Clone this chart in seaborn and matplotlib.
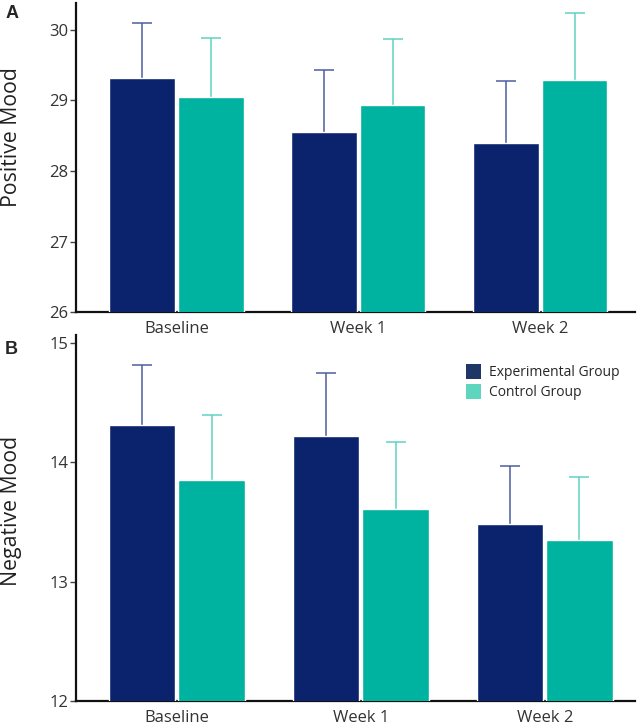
import numpy as np
import pandas as pd
import matplotlib
matplotlib.use("Agg")
import matplotlib.pyplot as plt
import seaborn as sns
from matplotlib.patches import Patch

sns.set_style("white")
plt.rcParams['font.family'] = ['Open Sans', 'DejaVu Sans']

# ---- data ----
timepoints = ["Baseline", "Week 1", "Week 2"]
groups = ["Experimental Group", "Control Group"]

pos_exp = [29.31, 28.55, 28.39]
pos_ctrl = [29.05, 28.93, 29.29]
pos_exp_err = [0.79, 0.88, 0.89]
pos_ctrl_err = [0.84, 0.94, 0.95]

neg_exp = [14.31, 14.22, 13.48]
neg_ctrl = [13.85, 13.61, 13.35]
neg_exp_err = [0.51, 0.53, 0.49]
neg_ctrl_err = [0.55, 0.56, 0.53]

bar_colors = ["#0b236d", "#00b3a0"]
err_colors = ["#4d5e9e", "#5fd3c3"]
legend_colors = ["#1f3766", "#5dd6bd"]


def make_df(exp, ctrl):
    return pd.DataFrame({
        "Time": timepoints * 2,
        "Group": [groups[0]] * 3 + [groups[1]] * 3,
        "Score": exp + ctrl,
    })


def draw_panel(ax, exp, ctrl, exp_err, ctrl_err, ylim, xlim, yticks, ylabel, label_y):
    df = make_df(exp, ctrl)
    sns.barplot(data=df, x="Time", y="Score", hue="Group", hue_order=groups,
                palette=bar_colors, errorbar=None, width=0.755, gap=0.045,
                saturation=1, legend=False, ax=ax, zorder=3)
    # upward-only error bars placed at the bar tops
    for cont, errs, ec in zip(ax.containers, [exp_err, ctrl_err], err_colors):
        xs = [b.get_x() + b.get_width() / 2 for b in cont]
        ys = [b.get_height() for b in cont]
        _, caps, _ = ax.errorbar(xs, ys, yerr=[np.zeros(len(errs)), errs],
                                 fmt="none", ecolor=ec, elinewidth=1.1,
                                 capsize=7, capthick=1.1, zorder=2)
        caps[0].set_visible(False)
    ax.set_ylim(*ylim)
    ax.set_xlim(*xlim)
    ax.set_yticks(yticks)
    ax.set_xlabel("")
    ax.set_ylabel(ylabel, fontsize=15.3, color="#222222")
    ax.yaxis.set_label_coords(-0.097, label_y)
    ax.tick_params(axis="y", left=True, length=4.5, width=1, color="#444444",
                   labelsize=12, labelcolor="#333333", pad=1)
    ax.tick_params(axis="x", bottom=False, labelsize=12, labelcolor="#333333", pad=3)
    for s in ["top", "right"]:
        ax.spines[s].set_visible(False)
    for s in ["left", "bottom"]:
        ax.spines[s].set_color("#111111")
        ax.spines[s].set_linewidth(1.6)


fig = plt.figure(figsize=(6.38, 7.28), dpi=100)
ax1 = fig.add_axes([0.119, 0.571, 0.876, 0.425])
ax2 = fig.add_axes([0.119, 0.0375, 0.876, 0.5025])

draw_panel(ax1, pos_exp, pos_ctrl, pos_exp_err, pos_ctrl_err,
           (26, 30.38), (-0.553, 2.52), [26, 27, 28, 29, 30], "Positive Mood", 0.566)
draw_panel(ax2, neg_exp, neg_ctrl, neg_exp_err, neg_ctrl_err,
           (12, 15.07), (-0.549, 2.49), [12, 13, 14, 15], "Negative Mood", 0.519)

handles = [Patch(facecolor=c, edgecolor="none") for c in legend_colors]
ax2.legend(handles, groups, loc="upper left", bbox_to_anchor=(0.685, 0.94),
           frameon=False, fontsize=10, handlelength=1.1, handleheight=1.3,
           handletextpad=0.6, labelspacing=0.3, borderpad=0)

fig.text(0.008, 0.993, "A", fontsize=13, fontweight="bold", va="top",
         family=["Liberation Sans", "DejaVu Sans"])
fig.text(0.008, 0.532, "B", fontsize=13, fontweight="bold", va="top",
         family=["Liberation Sans", "DejaVu Sans"])

fig.savefig("out.png", dpi=100)
